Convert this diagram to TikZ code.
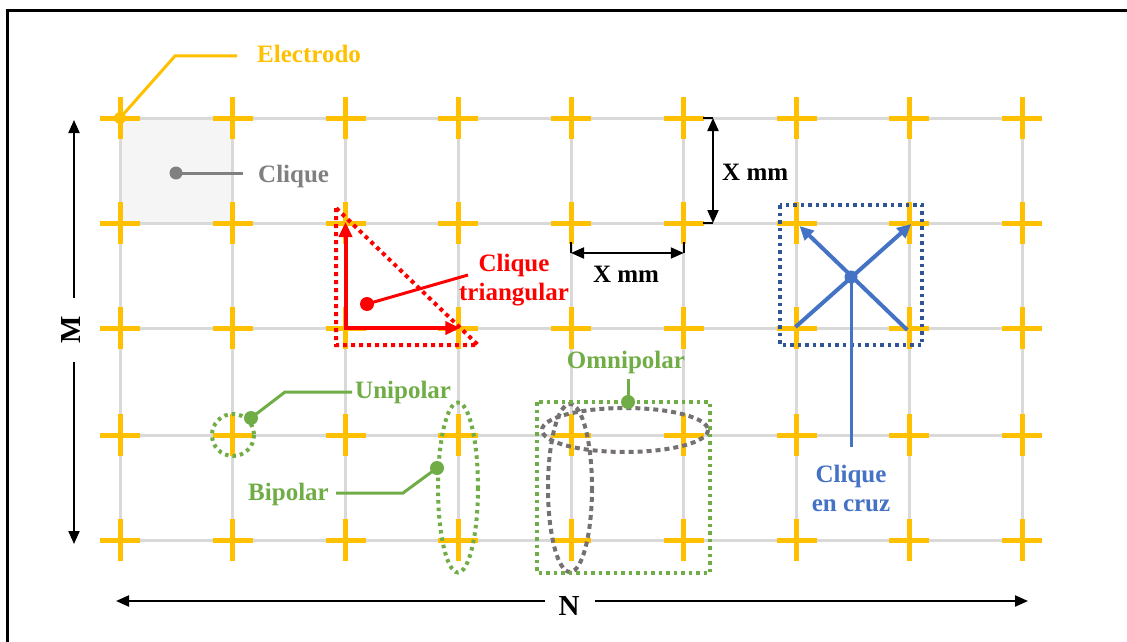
\documentclass[tikz,border=0pt]{standalone}
\usepackage{fontspec}
\setmainfont{Liberation Serif}
\usetikzlibrary{arrows.meta,calc}
\definecolor{ylw}{HTML}{FFC000}
\definecolor{grd}{HTML}{D9D9D9}
\definecolor{grn}{HTML}{70AD47}
\definecolor{blu}{HTML}{4472C4}
\definecolor{dblu}{HTML}{2F5597}
\definecolor{gry}{HTML}{808080}
\definecolor{dgry}{HTML}{767171}
\definecolor{cellfill}{HTML}{F5F5F5}
\begin{document}
\begin{tikzpicture}[x=1pt,y=-1pt,
  lbl/.style={font=\fontsize{25}{29}\selectfont\bfseries, inner sep=0pt},
  biglbl/.style={font=\fontsize{29}{32}\selectfont\bfseries, inner sep=0pt},
  dimline/.style={line width=2pt, black},
  dimarrow/.style={dimline, {Triangle[length=13pt,width=11pt]}-{Triangle[length=13pt,width=11pt]}},
  onearrow/.style={dimline, -{Triangle[length=13pt,width=11pt]}},
  redarrow/.style={red, line width=4pt, -{Triangle[length=15pt,width=13pt]}},
  bluarrow/.style={blu, line width=4pt, -{Triangle[length=14pt,width=13pt]}},
  grndot/.style={grn, line width=4pt, dash pattern=on 3.5pt off 4pt},
  grydot/.style={dgry, line width=4pt, dash pattern=on 5pt off 4pt},
  leader/.style={line width=3pt}]
\useasboundingbox (0,0) rectangle (1127,642);
\fill[white] (0,0) rectangle (1127,642);
% frame
\draw[line width=3pt] (7.5,642) -- (7.5,11) -- (1127,11);
% shaded clique cell
\fill[cellfill] (120,118) rectangle (232.75,223);
% grid
\foreach \c in {0,...,8} \draw[grd, line width=3pt] ({120+112.75*\c},118) -- ({120+112.75*\c},540);
\foreach \yy in {118,223,328,435,540} \draw[grd, line width=3pt] (120,\yy) -- (1022,\yy);
% electrodes
\foreach \c in {0,...,8}
  \foreach \r/\yy in {0/118,1/223,2/328,3/435,4/540}{
    \coordinate (e\c\r) at ({120+112.75*\c},\yy);
    \draw[ylw, line width=5pt] ($(e\c\r)+(-20,0)$) -- ($(e\c\r)+(20,0)$)
      ($(e\c\r)+(0,-21)$) -- ($(e\c\r)+(0,21)$);
  }
% Electrodo
\fill[ylw] (e00) circle (6);
\node[lbl, text=ylw, anchor=base west] (electrodo) at (257,63) {Electrodo};
\coordinate (elbend) at (175,56);
\coordinate (elend) at (237,56);
\draw[ylw, leader] (e00) -- (elbend) -- (elend);
% Clique (gray)
\coordinate (cq) at (176,173);
\fill[gry] (cq) circle (6.5);
\node[lbl, text=gry, anchor=base west] (cqlbl) at (258,182) {Clique};
\coordinate (cqend) at (243,173);
\draw[gry, leader] (cq) -- (cqend);
% triangular clique
\draw[red, line width=4pt, dash pattern=on 4pt off 4pt] (336,208) -- (336,345) -- (478,345) -- cycle;
\draw[redarrow] ($(e22)+(0,2)$) -- ($(e21)+(0,-1)$);
\draw[redarrow] ($(e22)+(-2,0)$) -- ($(e32)+(2,0)$);
\coordinate (tri) at (367,304);
\fill[red] (tri) circle (7);
\coordinate (triend) at (468,275);
\draw[red, leader] (tri) -- (triend);
\node[lbl, text=red, align=center, anchor=north] (trilbl) at (514,254) {Clique\\triangular};
% X mm vertical
\coordinate (xv1) at (713,118);
\coordinate (xv2) at (713,223);
\draw[dimline] (703,118) -- (xv1) (703,223) -- (xv2);
\draw[dimarrow] (xv1) -- (xv2);
\node[lbl, anchor=base west] (xmmv) at (722,180) {X mm};
% X mm horizontal
\coordinate (xh1) at (571,253);
\coordinate (xh2) at (683.75,253);
\draw[dimline] (571,242) -- (xh1) (683.75,242) -- (xh2);
\draw[dimarrow] (xh1) -- (xh2);
\node[lbl, anchor=base] (xmmh) at (626,282) {X mm};
% cross clique
\draw[dblu, line width=3.5pt, dash pattern=on 3.5pt off 4pt] (780,205) rectangle (922,345);
\coordinate (cx) at (851,277);
\draw[bluarrow] ($(e62)+(-1,-1)$) -- ($(e71)+(2,1)$);
\draw[bluarrow] ($(e72)+(-2,2)$) -- ($(e61)+(3,3)$);
\fill[blu] (cx) circle (6.5);
\coordinate (cxend) at (851,447);
\draw[blu, leader] (cx) -- (cxend);
\node[lbl, text=blu, align=center, anchor=north] (cxlbl) at (851,465) {Clique\\en cruz};
% Unipolar
\draw[grndot] (233,435) circle (21);
\coordinate (uni) at (251,418);
\fill[grn] (uni) circle (7);
\coordinate (unibend) at (285,392);
\coordinate (uniend) at (352,392);
\draw[grn, leader] (uni) -- (unibend) -- (uniend);
\node[lbl, text=grn, anchor=base west] (unilbl) at (355,398) {Unipolar};
% Bipolar
\draw[grndot] (458,487.5) ellipse [x radius=20, y radius=85];
\coordinate (bip) at (437,468);
\fill[grn] (bip) circle (7);
\coordinate (bipbend) at (403,493);
\coordinate (bipend) at (336,493);
\draw[grn, leader] (bip) -- (bipbend) -- (bipend);
\node[lbl, text=grn, anchor=base east] (biplbl) at (329,500) {Bipolar};
% Omnipolar
\draw[grydot] (625,430) ellipse [x radius=83, y radius=22];
\draw[grydot] (570,488) ellipse [x radius=22, y radius=84];
\draw[grndot] (537,402) rectangle (710,573);
\coordinate (omni) at (628,402);
\coordinate (omniend) at (628,379);
\draw[grn, leader] (omni) -- (omniend);
\fill[grn] (omni) circle (7);
\node[lbl, text=grn, anchor=base] (omnilbl) at (626,368) {Omnipolar};
% M
\node[biglbl, rotate=90] (mlbl) at (71,330) {M};
\coordinate (mt) at (74,120);
\coordinate (mb) at (74,544);
\coordinate (m1) at (74,298);
\coordinate (m2) at (74,362);
\draw[onearrow] (m1) -- (mt);
\draw[onearrow] (m2) -- (mb);
% N
\node[biglbl, anchor=base] (nlbl) at (569,615) {N};
\coordinate (nl) at (116,601);
\coordinate (nr) at (1028,601);
\coordinate (n1) at (545,601);
\coordinate (n2) at (595,601);
\draw[onearrow] (n1) -- (nl);
\draw[onearrow] (n2) -- (nr);
\end{tikzpicture}
\end{document}
